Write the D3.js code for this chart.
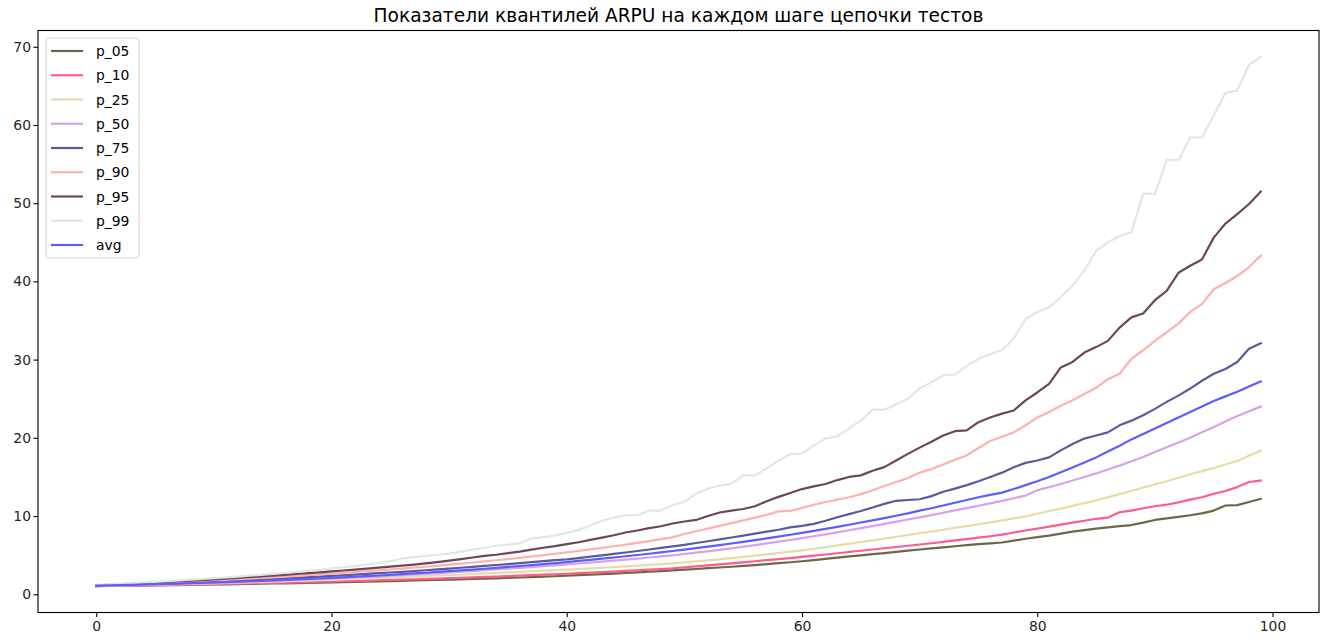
<!DOCTYPE html>
<html>
<head>
<meta charset="utf-8">
<script src="https://cdn.jsdelivr.net/npm/d3@7"></script>
<style>
  body { margin: 0; background: #fff; }
  svg { display: block; }
  text { font-family: "DejaVu Sans", sans-serif; }
</style>
</head>
<body>
<svg id="chart" width="1325" height="643"></svg>
<script>
// ARPU quantiles at every step of the test chain (steps 0..99)
const chartTitle = "Показатели квантилей ARPU на каждом шаге цепочки тестов";

const p_05 = [
  1.05,1.06,1.08,1.10,1.12,1.14,1.16,1.18,1.20,1.22,
  1.25,1.27,1.30,1.32,1.35,1.38,1.40,1.43,1.46,1.50,
  1.53,1.56,1.59,1.62,1.65,1.69,1.72,1.76,1.79,1.83,
  1.87,1.91,1.95,2.00,2.04,2.09,2.14,2.19,2.25,2.30,
  2.38,2.44,2.50,2.57,2.64,2.72,2.80,2.88,2.97,3.05,
  3.14,3.23,3.33,3.42,3.52,3.62,3.72,3.85,3.97,4.09,
  4.22,4.36,4.52,4.68,4.84,4.98,5.12,5.27,5.43,5.58,
  5.72,5.86,6.00,6.14,6.28,6.40,6.50,6.62,6.85,7.10,
  7.30,7.50,7.75,8.00,8.20,8.40,8.55,8.70,8.85,9.15,
  9.50,9.70,9.90,10.10,10.35,10.70,11.35,11.40,11.80,12.20
];
const p_10 = [
  1.05,1.07,1.09,1.11,1.13,1.16,1.18,1.21,1.24,1.27,
  1.30,1.33,1.36,1.39,1.42,1.45,1.49,1.52,1.56,1.60,
  1.63,1.67,1.71,1.75,1.79,1.83,1.87,1.92,1.96,2.01,
  2.06,2.11,2.16,2.21,2.26,2.32,2.38,2.44,2.50,2.56,
  2.62,2.69,2.76,2.83,2.90,2.98,3.06,3.14,3.22,3.31,
  3.45,3.57,3.69,3.81,3.94,4.08,4.22,4.37,4.50,4.63,
  4.78,4.93,5.08,5.24,5.40,5.56,5.72,5.88,6.04,6.20,
  6.36,6.52,6.70,6.88,7.06,7.24,7.42,7.62,7.90,8.15,
  8.40,8.65,8.90,9.15,9.40,9.65,9.80,10.50,10.70,11.00,
  11.25,11.45,11.75,12.10,12.40,12.85,13.20,13.70,14.35,14.55
];
const p_25 = [
  1.10,1.12,1.14,1.17,1.20,1.23,1.26,1.29,1.32,1.36,
  1.40,1.44,1.48,1.52,1.56,1.61,1.65,1.70,1.75,1.80,
  1.85,1.91,1.97,2.03,2.09,2.15,2.21,2.28,2.35,2.42,
  2.46,2.52,2.59,2.66,2.73,2.80,2.87,2.94,3.01,3.08,
  3.15,3.23,3.31,3.39,3.48,3.57,3.66,3.76,3.86,3.96,
  4.08,4.20,4.33,4.47,4.62,4.77,4.93,5.10,5.27,5.44,
  5.62,5.82,6.02,6.24,6.46,6.68,6.90,7.12,7.35,7.58,
  7.80,8.02,8.25,8.50,8.72,8.95,9.20,9.45,9.70,9.95,
  10.30,10.65,10.95,11.30,11.65,12.00,12.40,12.80,13.20,13.65,
  14.05,14.45,14.90,15.35,15.75,16.15,16.60,17.05,17.70,18.35
];
const p_50 = [
  1.10,1.13,1.16,1.19,1.22,1.26,1.30,1.34,1.38,1.42,
  1.46,1.51,1.56,1.61,1.66,1.71,1.77,1.83,1.89,1.95,
  2.01,2.08,2.15,2.22,2.29,2.37,2.45,2.53,2.61,2.70,
  2.79,2.88,2.97,3.07,3.17,3.27,3.37,3.48,3.59,3.70,
  3.81,3.93,4.05,4.17,4.30,4.43,4.56,4.70,4.84,4.98,
  5.15,5.32,5.50,5.68,5.87,6.07,6.28,6.50,6.72,6.94,
  7.18,7.42,7.66,7.92,8.18,8.45,8.72,9.00,9.28,9.56,
  9.84,10.12,10.42,10.72,11.02,11.32,11.62,11.94,12.28,12.62,
  13.30,13.70,14.10,14.55,15.00,15.45,15.95,16.45,17.00,17.55,
  18.20,18.80,19.40,20.00,20.70,21.40,22.10,22.80,23.40,24.00
];
const p_75 = [
  1.12,1.16,1.20,1.24,1.29,1.34,1.39,1.44,1.50,1.56,
  1.62,1.68,1.74,1.81,1.88,1.95,2.02,2.10,2.18,2.26,
  2.34,2.42,2.51,2.60,2.69,2.78,2.87,2.97,3.07,3.17,
  3.28,3.39,3.50,3.62,3.74,3.86,3.98,4.11,4.24,4.37,
  4.45,4.62,4.80,4.98,5.16,5.34,5.53,5.72,5.92,6.12,
  6.32,6.55,6.78,7.02,7.26,7.50,7.75,8.00,8.25,8.55,
  8.75,9.00,9.40,9.85,10.25,10.65,11.10,11.55,11.95,12.05,
  12.15,12.55,13.10,13.50,13.95,14.45,15.00,15.55,16.25,16.80,
  17.10,17.50,18.40,19.20,19.90,20.30,20.70,21.60,22.20,22.90,
  23.70,24.60,25.40,26.30,27.30,28.20,28.80,29.70,31.40,32.10
];
const p_90 = [
  1.15,1.20,1.25,1.31,1.37,1.43,1.49,1.56,1.63,1.70,
  1.77,1.85,1.93,2.01,2.09,2.17,2.26,2.35,2.44,2.54,
  2.64,2.74,2.84,2.95,3.06,3.17,3.28,3.40,3.52,3.64,
  3.78,3.92,4.06,4.20,4.35,4.50,4.66,4.83,5.00,5.18,
  5.36,5.55,5.74,5.94,6.14,6.35,6.56,6.80,7.04,7.28,
  7.70,8.05,8.40,8.75,9.10,9.45,9.80,10.15,10.60,10.65,
  11.05,11.45,11.80,12.10,12.40,12.80,13.30,13.85,14.35,14.85,
  15.55,16.00,16.60,17.20,17.75,18.70,19.60,20.15,20.70,21.60,
  22.60,23.30,24.10,24.80,25.60,26.40,27.50,28.20,30.10,31.20,
  32.40,33.50,34.60,36.10,37.10,39.00,39.80,40.70,41.80,43.30
];
const p_95 = [
  1.15,1.21,1.28,1.35,1.42,1.49,1.57,1.65,1.73,1.81,
  1.90,1.99,2.08,2.18,2.28,2.38,2.48,2.59,2.70,2.81,
  2.92,3.04,3.16,3.28,3.40,3.53,3.66,3.80,3.95,4.12,
  4.30,4.50,4.70,4.90,5.05,5.25,5.45,5.70,5.95,6.15,
  6.40,6.65,6.95,7.25,7.55,7.90,8.15,8.45,8.70,9.05,
  9.30,9.50,10.00,10.45,10.70,10.90,11.25,11.90,12.45,12.95,
  13.45,13.80,14.10,14.60,15.00,15.20,15.80,16.25,17.10,17.95,
  18.75,19.50,20.30,20.85,20.95,22.00,22.60,23.10,23.50,24.80,
  25.80,26.90,29.00,29.70,30.90,31.60,32.40,34.10,35.40,35.90,
  37.60,38.80,41.10,42.00,42.80,45.60,47.40,48.60,49.90,51.50
];
const p_99 = [
  1.20,1.27,1.35,1.43,1.51,1.59,1.68,1.77,1.86,1.96,
  2.06,2.16,2.26,2.37,2.48,2.60,2.72,2.85,2.98,3.12,
  3.30,3.45,3.60,3.80,4.00,4.20,4.60,4.75,4.90,5.05,
  5.20,5.45,5.70,5.95,6.20,6.35,6.50,7.15,7.30,7.50,
  7.85,8.20,8.80,9.40,9.80,10.10,10.10,10.70,10.70,11.40,
  11.80,12.90,13.50,13.90,14.10,15.20,15.20,16.10,17.10,17.90,
  18.00,19.00,19.90,20.20,21.20,22.20,23.60,23.60,24.30,25.00,
  26.30,27.10,28.00,28.10,29.20,30.10,30.70,31.20,32.70,35.20,
  36.10,36.70,38.00,39.50,41.40,43.90,45.00,45.80,46.30,51.20,
  51.20,55.50,55.50,58.40,58.40,61.20,64.10,64.40,67.70,68.70
];
const avg = [
  1.12,1.15,1.18,1.21,1.25,1.29,1.33,1.37,1.41,1.46,
  1.51,1.56,1.61,1.66,1.72,1.78,1.84,1.90,1.96,2.03,
  2.10,2.17,2.25,2.32,2.40,2.48,2.57,2.66,2.75,2.85,
  2.95,3.05,3.15,3.26,3.37,3.49,3.61,3.73,3.86,3.99,
  4.12,4.26,4.40,4.55,4.70,4.86,5.02,5.18,5.35,5.53,
  5.71,5.90,6.09,6.29,6.49,6.70,6.92,7.14,7.37,7.61,
  7.85,8.10,8.36,8.62,8.89,9.17,9.45,9.74,10.04,10.35,
  10.70,11.00,11.35,11.70,12.05,12.40,12.70,13.00,13.45,13.95,
  14.45,15.00,15.60,16.20,16.85,17.50,18.25,19.00,19.80,20.50,
  21.20,21.90,22.60,23.30,24.00,24.70,25.30,25.90,26.55,27.20
];

const seriesNames  = ["p_05", "p_10", "p_25", "p_50", "p_75", "p_90", "p_95", "p_99", "avg"];
const seriesValues = [p_05, p_10, p_25, p_50, p_75, p_90, p_95, p_99, avg];
const seriesColors = ["#6b6943", "#ff5c8d", "#e6dca6", "#d9a1ea", "#585b9c",
                      "#ffb0b0", "#6f4559", "#dfe9e4", "#5c5cff"];

const steps  = d3.range(p_05.length);
const xTicks = [0, 20, 40, 60, 80, 100];
const yTicks = [0, 10, 20, 30, 40, 50, 60, 70];

// plot frame
const frame = { left: 38, right: 1319, top: 30.5, bottom: 612.5 };
const fontTick = 13.9, fontTitle = 18.6, fontLegend = 13.9;

const svg = d3.select("#chart");

// axis limits padded by 5% on each side
const xExt = d3.extent(steps);
const xPad = (xExt[1] - xExt[0]) * 0.05;
const yExt = d3.extent(seriesValues.flat());
const yPad = (yExt[1] - yExt[0]) * 0.05;

const x = d3.scaleLinear()
  .domain([xExt[0] - xPad, xExt[1] + xPad])
  .range([frame.left, frame.right]);
const y = d3.scaleLinear()
  .domain([yExt[0] - yPad, yExt[1] + yPad])
  .range([frame.bottom, frame.top]);

// title
svg.append("text")
  .attr("x", (frame.left + frame.right) / 2)
  .attr("y", frame.top - 9)
  .attr("text-anchor", "middle")
  .attr("font-size", fontTitle)
  .attr("fill", "#000")
  .text(chartTitle);

// series lines
const plot = svg.append("g");
const line = d3.line()
  .x((d, i) => x(steps[i]))
  .y(d => y(d));
seriesValues.forEach((vals, k) => {
  plot.append("path")
    .datum(vals)
    .attr("fill", "none")
    .attr("stroke", seriesColors[k])
    .attr("stroke-width", 2.2)
    .attr("stroke-linejoin", "round")
    .attr("stroke-linecap", "square")
    .attr("d", line);
});

// axes
const tickLen = 4.5, tickPad = 2.5;
const xAxis = svg.append("g")
  .attr("transform", `translate(0,${frame.bottom})`)
  .call(d3.axisBottom(x).tickValues(xTicks).tickSize(tickLen).tickPadding(4.5).tickFormat(d3.format("d")));
const yAxis = svg.append("g")
  .attr("transform", `translate(${frame.left},0)`)
  .call(d3.axisLeft(y).tickValues(yTicks).tickSize(tickLen).tickPadding(tickPad).tickFormat(d3.format("d")));
[xAxis, yAxis].forEach(g => {
  g.select(".domain").remove();
  g.selectAll(".tick line").attr("stroke", "#000").attr("stroke-width", 1.1);
  g.selectAll(".tick text")
    .attr("font-family", "DejaVu Sans, sans-serif")
    .attr("font-size", fontTick)
    .attr("fill", "#262626");
});

// spines
svg.append("rect")
  .attr("x", frame.left)
  .attr("y", frame.top)
  .attr("width", frame.right - frame.left)
  .attr("height", frame.bottom - frame.top)
  .attr("fill", "none")
  .attr("stroke", "#000")
  .attr("stroke-width", 1.1);

// legend
const legend = svg.append("g");
const lg = { x: 46, y: 38, w: 93, rowH: 24.25, firstRow: 13 };
legend.append("rect")
  .attr("x", lg.x)
  .attr("y", lg.y)
  .attr("width", lg.w)
  .attr("height", lg.firstRow * 2 + lg.rowH * (seriesNames.length - 1))
  .attr("rx", 3)
  .attr("fill", "#fff")
  .attr("fill-opacity", 0.8)
  .attr("stroke", "#d4d4d4")
  .attr("stroke-width", 1);
seriesNames.forEach((name, k) => {
  const cy = lg.y + lg.firstRow + k * lg.rowH;
  legend.append("line")
    .attr("x1", lg.x + 5).attr("x2", lg.x + 37)
    .attr("y1", cy).attr("y2", cy)
    .attr("stroke", seriesColors[k])
    .attr("stroke-width", 2.2);
  legend.append("text")
    .attr("x", lg.x + 50)
    .attr("y", cy)
    .attr("dy", "0.36em")
    .attr("font-size", fontLegend)
    .attr("fill", "#000")
    .text(name);
});
</script>
</body>
</html>
